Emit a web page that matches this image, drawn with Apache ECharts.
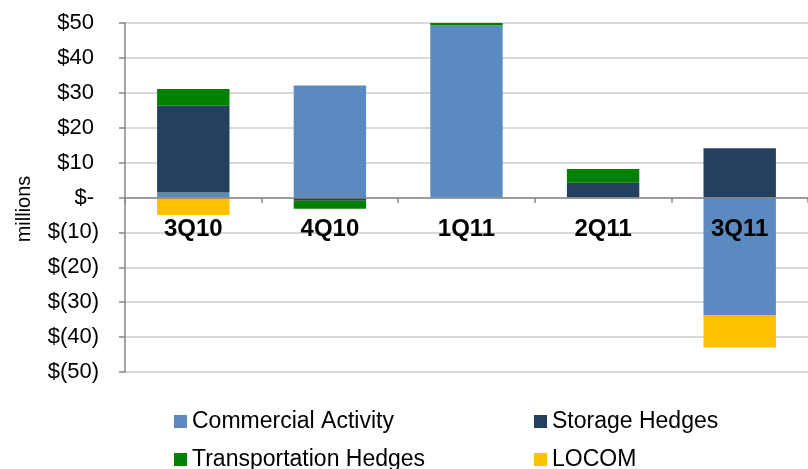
<!DOCTYPE html>
<html>
<head>
<meta charset="UTF-8">
<title>Gas margin by component</title>
<script src="https://cdn.jsdelivr.net/npm/echarts@6/dist/echarts.min.js"></script>
<style>
  html, body { margin: 0; padding: 0; background: #fff; }
  #container { width: 808px; height: 469px; }
</style>
</head>
<body>
	<div id="container"></div>
	<script type="text/javascript">

	// quarters
	var categories = ['3Q10', '4Q10', '1Q11', '2Q11', '3Q11'];

	// $ millions
	var commercial     = [1.4, 32.1, 49.3, 0, -33.7];
	var storage        = [24.9, -0.9, 0, 4.2, 14.1];
	var transportation = [4.8, -2.3, 0.9, 4.0, 0];
	var locom          = [-5.0, 0, 0, 0, -9.3];

	// y ticks and their labels
	var yTicks      = [-50, -40, -30, -20, -10, 0, 10, 20, 30, 40, 50];
	var yTickLabels = ['$(50)', '$(40)', '$(30)', '$(20)', '$(10)', '$-', '$10', '$20', '$30', '$40', '$50'];

	var seriesNames = ['Commercial Activity', 'Storage Hedges', 'Transportation Hedges', 'LOCOM'];
	var colors = ['#5B8AC1', '#243F5F', '#008000', '#FFC000'];

	var font = '"Liberation Sans", Arial, sans-serif';

	var dom = document.getElementById("container");
	var myChart = echarts.init(dom);
	var option = null;

	function bar(name, data, color) {
		return {
			name: name,
			type: 'bar',
			stack: 'total',
			barWidth: '53%',
			data: data,
			itemStyle: { color: color },
			emphasis: { disabled: true }
		};
	}

	// one legend box per entry so the 2x2 layout lines up
	function legendItem(name, left, top) {
		return {
			left: left, top: top,
			icon: 'rect', itemWidth: 13, itemHeight: 13,
			textStyle: { fontSize: 23, color: '#000', fontFamily: font },
			data: [name]
		};
	}

	option = {
		animation: false,
		textStyle: { fontFamily: font },
		grid: { left: 125, right: -15, top: 23, bottom: 97 },
		legend: [
			legendItem(seriesNames[0], 169, 405),
			legendItem(seriesNames[1], 529, 405),
			legendItem(seriesNames[2], 169, 443),
			legendItem(seriesNames[3], 529, 443)
		],
		graphic: [{
			type: 'text',
			x: 24, y: 209,
			rotation: Math.PI / 2,
			style: {
				text: 'millions',
				font: '20px ' + font,
				fill: '#000',
				align: 'center',
				verticalAlign: 'middle'
			}
		}],
		xAxis: {
			type: 'category',
			data: categories,
			z: 5,
			offset: -174,
			axisLine: { onZero: false, lineStyle: { color: '#868686', width: 1.5 } },
			axisTick: { show: true, length: 5, lineStyle: { color: '#868686', width: 1.5 } },
			axisLabel: { margin: 19, fontSize: 24, fontWeight: 'bold', color: '#000', fontFamily: font }
		},
		yAxis: {
			type: 'value',
			min: -50, max: 50, interval: 10,
			axisLine: { show: true, lineStyle: { color: '#868686', width: 1.5 } },
			axisTick: { show: true, length: 6, lineStyle: { color: '#868686', width: 1.5 } },
			splitLine: { lineStyle: { color: '#D9D9D9', width: 2 } },
			axisLabel: {
				margin: 26, fontSize: 22, color: '#000', fontFamily: font,
				formatter: function (v) {
					var s = yTickLabels[yTicks.indexOf(v)];
					return v < 0 ? s : '{p|' + s + '}';
				},
				rich: { p: { fontSize: 22, fontFamily: font, color: '#000', padding: [0, 5, 0, 0] } }
			}
		},
		series: [
			bar(seriesNames[0], commercial, colors[0]),
			bar(seriesNames[1], storage, colors[1]),
			bar(seriesNames[2], transportation, colors[2]),
			bar(seriesNames[3], locom, colors[3])
		]
	};

	if (option && typeof option === "object") {
		myChart.setOption(option, true);
	}

	</script>
</body>
</html>
